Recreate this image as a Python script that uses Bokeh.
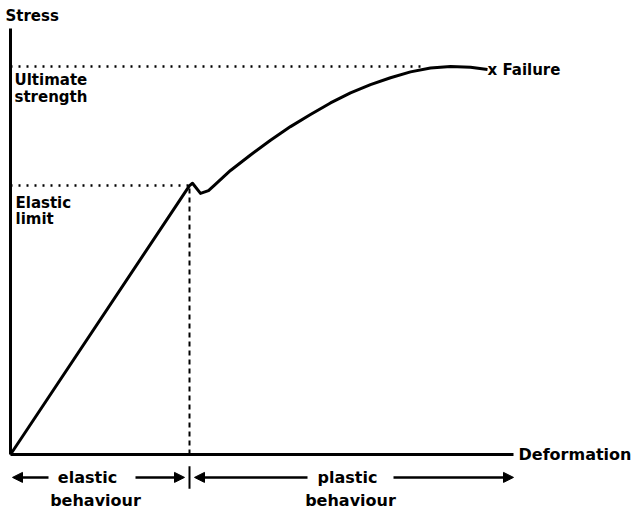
from bokeh.plotting import figure
from bokeh.models import Range1d, Arrow, NormalHead
from bokeh.embed import file_html
from bokeh.resources import INLINE
from bokeh.core.properties import value

# ---- data (arbitrary units: deformation 0..100, stress 0..100 = ultimate) ----
deformation = [0, 35.8, 36.4, 38.0, 39.6, 40.7, 44, 48, 52, 56, 60, 64, 68, 72, 76, 80, 84, 88, 92, 95.4]
stress = [0, 69.3, 69.9, 67.3, 68.0, 69.3, 73.2, 77.2, 81.0, 84.5, 87.6, 90.6, 93.2, 95.3, 97.1, 98.6, 99.6, 100.0, 99.8, 99.2]

elastic_limit_def = 35.8
elastic_limit_stress = 69.3
ultimate_stress = 100.0
ultimate_dot_end = 82.0
failure_def = deformation[-1]
failure_stress = stress[-1]
axis_x_end = 100.6
axis_y_end = 109.8

FONT = value("DejaVu Sans")

p = figure(width=631, height=514, output_backend="svg", toolbar_location=None,
           x_range=Range1d(-2.0, 124.2), y_range=Range1d(-15.46, 117.0),
           min_border=0, min_border_left=0, min_border_right=0,
           min_border_top=0, min_border_bottom=0)
p.axis.visible = False
p.grid.visible = False
p.outline_line_color = None
p.background_fill_color = "white"
p.border_fill_color = "white"

# axes
p.line([0, 0], [0, axis_y_end], line_color="black", line_width=3)
p.line([0, axis_x_end], [0, 0], line_color="black", line_width=3)

# guide lines
p.line([0, ultimate_dot_end], [ultimate_stress, ultimate_stress], line_color="black",
       line_width=2.5, line_dash="2 6")
p.line([0, elastic_limit_def], [elastic_limit_stress, elastic_limit_stress], line_color="black",
       line_width=2.5, line_dash="2 6")
p.line([elastic_limit_def, elastic_limit_def], [0, elastic_limit_stress], line_color="black",
       line_width=2, line_dash="5 4")

# curve
p.line(deformation, stress, line_color="black", line_width=3, line_join="round")

# texts
def txt(x, y, s, align="left", size="15px"):
    p.text([x], [y], text=[s], text_align=align, text_baseline="middle",
           text_font=FONT, text_font_size=size, text_font_style="bold", text_color="black")

txt(-1.0, 113.1, "Stress")
txt(0.8, 96.6, "Ultimate")
txt(0.8, 92.2, "strength")
txt(1.0, 64.7, "Elastic")
txt(1.0, 60.6, "limit")
txt(failure_def, failure_stress, "x Failure")
txt(101.6, 0.0, "Deformation", size="16px")

arrow_y = -5.9
beh_y = -11.9
txt(15.4, arrow_y, "elastic", align="center", size="16px")
txt(17.0, beh_y, "behaviour", align="center", size="16px")
txt(67.4, arrow_y, "plastic", align="center", size="16px")
txt(68.0, beh_y, "behaviour", align="center", size="16px")

def arrow(x0, x1):
    p.add_layout(Arrow(end=NormalHead(size=10, fill_color="black", line_color="black"),
                       x_start=x0, y_start=arrow_y, x_end=x1, y_end=arrow_y,
                       line_color="black", line_width=2.5))

arrow(7.6, 0.4)
arrow(25.0, elastic_limit_def - 1.0)
arrow(59.4, elastic_limit_def + 1.0)
arrow(76.6, axis_x_end)
p.line([elastic_limit_def, elastic_limit_def], [arrow_y + 2.9, arrow_y - 2.9], line_color="black", line_width=2)

open("out.html", "w").write(file_html(p, INLINE))
